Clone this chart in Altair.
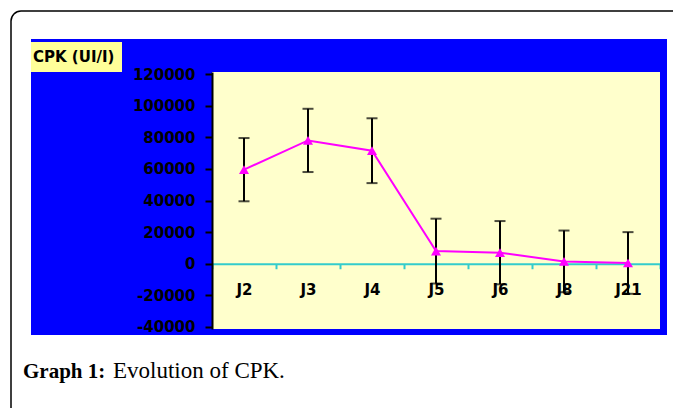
import altair as alt
import pandas as pd

# ---- data ----
days = ["J2", "J3", "J4", "J5", "J6", "J8", "J21"]
cpk_mean = [59500, 78000, 71500, 8000, 7000, 1500, 500]
cpk_sd = [20000, 20000, 20500, 20500, 20000, 19500, 19500]
y_ticks = [-40000, -20000, 0, 20000, 40000, 60000, 80000, 100000, 120000]
y_title = "CPK (UI/I)"
caption_bold = "Graph 1:"
caption_text = "Evolution of CPK."

df = pd.DataFrame({"day": days, "cpk": cpk_mean, "sd": cpk_sd})
one = pd.DataFrame({"k": [0]})

Y_DOMAIN = [-41265, 121265]
BLUE = "#0000FF"
CREAM = "#FFFFCC"
CYAN = "#33CCCC"
MAGENTA = "#FF00FF"

x_enc = alt.X(
    "day:N", sort=days,
    scale=alt.Scale(type="band", paddingInner=0, paddingOuter=0),
    axis=alt.Axis(
        title=None, orient="bottom", offset=-65.25, labelAngle=0,
        domainColor=CYAN, domainWidth=2, tickColor=CYAN, tickWidth=2,
        tickSize=5, tickBand="extent", grid=False,
        labelFont="DejaVu Sans", labelFontWeight="bold", labelFontSize=15,
        labelColor="black", labelBaseline="middle", labelPadding=21, zindex=0,
    ),
)


def y_enc(field):
    return alt.Y(
        field, scale=alt.Scale(domain=Y_DOMAIN, nice=False, zero=False),
        axis=alt.Axis(
            title=None, values=y_ticks, grid=False, domainColor="black",
            domainWidth=2, tickColor="black", tickWidth=2, tickSize=7,
            labelPadding=10, labelFont="DejaVu Sans", labelFontWeight="bold",
            labelFontSize=15, labelColor="black", zindex=1,
            labelExpr="datum.value + ''",
        ),
    )


base = alt.Chart(df).transform_calculate(
    lo="datum.cpk - datum.sd", hi="datum.cpk + datum.sd"
)

bars = base.mark_rule(color="black", strokeWidth=2).encode(
    x=x_enc, y=y_enc("lo:Q"), y2="hi:Q"
)
cap_hi = base.mark_tick(color="black", thickness=2, size=11).encode(
    x=x_enc, y=y_enc("hi:Q")
)
cap_lo = base.mark_tick(color="black", thickness=2, size=11).encode(
    x=x_enc, y=y_enc("lo:Q")
)
line = base.mark_line(color=MAGENTA, strokeWidth=2).encode(
    x=x_enc, y=y_enc("cpk:Q")
)
pts = base.mark_point(shape="triangle-up", filled=True, size=100,
                      color=MAGENTA, opacity=1).encode(
    x=x_enc, y=y_enc("cpk:Q")
)


def rect(x, x2, y, y2, **kw):
    return alt.Chart(one).mark_rect(**kw).encode(
        x=alt.value(x), x2=alt.value(x2), y=alt.value(y), y2=alt.value(y2)
    )


blue_left = rect(-181, 0, -33, 263, color=BLUE)
blue_top = rect(0, 455, -33, 0, color=BLUE)
blue_right = rect(448, 455, 0, 263, color=BLUE)
blue_bottom = rect(0, 455, 257, 263, color=BLUE)
yellow = rect(-181, -90, -30, 0, color="#FFFF99")
border = rect(-201, 490, -61, 420, fill="white", fillOpacity=0,
              stroke="black", strokeWidth=1.5, cornerRadius=10)

label = alt.Chart(one).mark_text(
    text=y_title, align="left", baseline="middle", font="DejaVu Sans",
    fontWeight="bold", fontSize=15, color="black"
).encode(x=alt.value(-179), y=alt.value(-15))

cap1 = alt.Chart(one).mark_text(
    text=caption_bold, align="left", baseline="alphabetic",
    font="Liberation Serif", fontWeight="bold", fontSize=21, color="black"
).encode(x=alt.value(-189), y=alt.value(306))
cap2 = alt.Chart(one).mark_text(
    text=caption_text, align="left", baseline="alphabetic",
    font="Liberation Serif", fontSize=23, color="black"
).encode(x=alt.value(-99), y=alt.value(306))

chart = alt.layer(
    bars, cap_hi, cap_lo, line, pts,
    border, blue_left, blue_top, blue_right, blue_bottom, yellow, label,
    cap1, cap2,
).properties(
    width=448, height=257,
    padding={"left": 204, "top": 64, "right": 13, "bottom": 79},
    autosize=alt.AutoSizeParams(type="none"),
    background="white",
).configure_view(fill=CREAM, strokeWidth=0)

chart.save("out.html", embed_options={"renderer": "svg", "actions": False})
